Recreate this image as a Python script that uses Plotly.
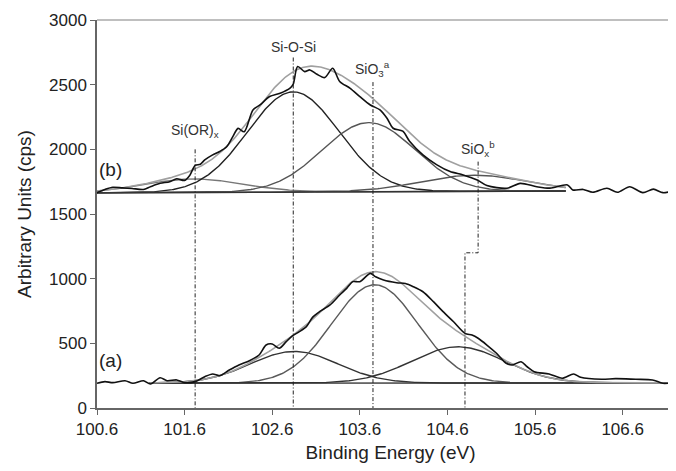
import numpy as np
import plotly.graph_objects as go

# ---------------- data ----------------
# raw spectrum (b)
energy_b = [100.60, 100.69, 100.78, 100.89, 101.00, 101.13, 101.21, 101.32, 101.43, 101.51,
            101.60, 101.66, 101.72, 101.78, 101.83, 101.92, 102.00, 102.08, 102.15, 102.21,
            102.28, 102.38, 102.46, 102.57, 102.69, 102.80, 102.84, 102.89, 102.97, 103.03,
            103.11, 103.20, 103.29, 103.37, 103.49, 103.60, 103.72, 103.83, 103.91, 103.98,
            104.09, 104.17, 104.32, 104.48, 104.63, 104.78, 104.94, 105.05, 105.28, 105.43,
            105.62, 105.77, 105.97, 106.03, 106.15, 106.26, 106.42, 106.54, 106.68, 106.83,
            106.95, 107.06, 107.21, 107.30]
counts_b = [1665, 1690, 1707, 1702, 1697, 1690, 1711, 1737, 1750, 1772,
            1760, 1800, 1875, 1885, 1918, 1957, 1983, 2020, 2098, 2162,
            2136, 2305, 2343, 2408, 2434, 2472, 2505, 2640, 2601, 2614,
            2580, 2555, 2627, 2525, 2472, 2408, 2343, 2305, 2240, 2163,
            2140, 2060, 1957, 1880, 1828, 1802, 1763, 1720, 1699, 1737,
            1711, 1700, 1725, 1686, 1690, 1668, 1699, 1668, 1711, 1665,
            1692, 1665, 1680, 1670]

# raw spectrum (a)
energy_a = [100.60, 100.69, 100.78, 100.92, 101.01, 101.13, 101.21, 101.32, 101.40, 101.51,
            101.60, 101.72, 101.83, 101.92, 102.00, 102.11, 102.22, 102.34, 102.45, 102.53,
            102.60, 102.68, 102.76, 102.83, 102.91, 102.99, 103.06, 103.14, 103.26, 103.37,
            103.45, 103.52, 103.60, 103.72, 103.78, 103.87, 104.02, 104.12, 104.21, 104.32,
            104.44, 104.55, 104.67, 104.80, 104.88, 104.95, 105.05, 105.16, 105.27, 105.34,
            105.44, 105.51, 105.59, 105.76, 105.91, 106.04, 106.12, 106.36, 106.52, 106.75,
            106.94, 107.06, 107.21, 107.30]
counts_a = [191, 204, 196, 211, 191, 211, 186, 234, 211, 217,
            196, 204, 242, 263, 250, 294, 333, 366, 410, 487,
            495, 462, 513, 557, 590, 629, 701, 745, 797, 874,
            925, 977, 977, 1041, 1015, 990, 969, 962, 938, 899,
            822, 745, 667, 577, 564, 539, 487, 423, 346, 333,
            358, 319, 281, 263, 230, 263, 237, 222, 227, 222,
            217, 191, 196, 194]

# fitted components: [centre (eV), height above background (cps), sigma (eV)]
peaks_b = {"Si(OR)x": [101.70, 105, 0.56],
           "Si-O-Si": [102.84, 775, 0.52],
           "SiO3": [103.70, 535, 0.53],
           "SiOx": [104.90, 125, 0.60]}
background_b = [1663, 1678]          # linear background at start/end of fit
fit_range_b = [100.60, 105.95]

peaks_a = {"Si-O-Si": [102.85, 245, 0.50],
           "SiO3": [103.77, 760, 0.49],
           "SiOx": [104.72, 280, 0.53]}
background_a = [192, 194]
fit_range_a = [101.20, 107.30]

# reference lines for the chemical states
state_labels = ["Si(OR)<sub>x</sub>", "Si-O-Si", "SiO<sub>3</sub><sup>a</sup>", "SiO<sub>x</sub><sup>b</sup>"]
state_energy_top = [101.72, 102.84, 103.75, 104.95]
state_energy_bottom = [101.72, 102.84, 103.75, 104.80]
state_line_top = [2000, 2710, 2520, 1905]
state_step_level = [None, None, None, 1200]

x_ticks = [100.6, 101.6, 102.6, 103.6, 104.6, 105.6, 106.6]
y_ticks = [0, 500, 1000, 1500, 2000, 2500, 3000]

# ---------------- figure ----------------
FONT = "Liberation Sans, Arial, sans-serif"
fig = go.Figure()


def add_fit(peaks, bg, rng, comp_colors, env_color="#a0a0a0"):
    e = np.linspace(rng[0], rng[1], 400)
    base = bg[0] + (bg[1] - bg[0]) * (e - rng[0]) / (rng[1] - rng[0])
    total = base.copy()
    for (name, (c, h, s)), col in zip(peaks.items(), comp_colors):
        g = h * np.exp(-((e - c) ** 2) / (2 * s ** 2))
        total += g
        fig.add_trace(go.Scatter(x=e, y=base + g, mode="lines",
                                 line=dict(color=col, width=1.4), hoverinfo="skip"))
    fig.add_trace(go.Scatter(x=e, y=base, mode="lines",
                             line=dict(color="#333333", width=1.4), hoverinfo="skip"))
    fig.add_trace(go.Scatter(x=e, y=total, mode="lines",
                             line=dict(color=env_color, width=1.6), hoverinfo="skip"))


add_fit(peaks_b, background_b, fit_range_b, ["#777777", "#222222", "#555555", "#555555"])
add_fit(peaks_a, background_a, fit_range_a, ["#333333", "#5a5a5a", "#333333"])

fig.add_trace(go.Scatter(x=energy_b, y=counts_b, mode="lines",
                         line=dict(color="#111111", width=1.6, shape="spline", smoothing=0.8)))
fig.add_trace(go.Scatter(x=energy_a, y=counts_a, mode="lines",
                         line=dict(color="#111111", width=1.6, shape="spline", smoothing=0.8)))

# vertical dash-dot state lines
for xt, xb, top, step in zip(state_energy_top, state_energy_bottom, state_line_top, state_step_level):
    if step is None:
        xs, ys = [xt, xt], [top, 0]
    else:
        xs, ys = [xt, xt, xb, xb], [top, step, step, 0]
    fig.add_trace(go.Scatter(x=xs, y=ys, mode="lines",
                             line=dict(color="#222222", width=1, dash="4px,2px,1px,2px")))

label_offsets = [6, 0, 0, 0]
for lab, xt, top, off in zip(state_labels, state_energy_top, state_line_top, label_offsets):
    fig.add_annotation(x=xt, y=top, text=lab, showarrow=False, xanchor="center",
                       yanchor="bottom", yshift=off + 1,
                       font=dict(family=FONT, size=14, color="#333333"))

fig.add_annotation(x=100.6, y=1745, text="(b)", showarrow=False, xanchor="left", yanchor="bottom",
                   font=dict(family=FONT, size=19, color="#222222"))
fig.add_annotation(x=100.6, y=270, text="(a)", showarrow=False, xanchor="left", yanchor="bottom",
                   font=dict(family=FONT, size=19, color="#222222"))

# top frame line
fig.add_shape(type="line", xref="paper", yref="paper", x0=0, x1=1, y0=1, y1=1,
              line=dict(color="#aaaaaa", width=1.5))

# the page adds an 8 px body margin, so the margins below are shifted by that amount
fig.update_layout(
    width=676, height=471,
    margin=dict(l=89, r=0, t=12, b=71, autoexpand=False),
    paper_bgcolor="white", plot_bgcolor="white",
    showlegend=False,
    font=dict(family=FONT, color="#222222", size=17),
    xaxis=dict(range=[100.6, 107.30], tickvals=x_ticks, ticktext=[f"{v:.1f}" for v in x_ticks],
               automargin=False,
               showgrid=False, zeroline=False, showline=True, linecolor="#666666", linewidth=1.5,
               ticks="outside", ticklen=5, tickcolor="#666666", tickwidth=1.2,
               tickfont=dict(size=17, family=FONT, color="#222222"),
               title=dict(text="Binding Energy (eV)", font=dict(size=19, family=FONT, color="#222222"),
                          standoff=8)),
    yaxis=dict(range=[0, 3000], tickvals=y_ticks, showgrid=False, zeroline=False,
               automargin=False,
               showline=True, linecolor="#666666", linewidth=1.5,
               ticks="outside", ticklen=5, tickcolor="#666666", tickwidth=1.2,
               tickfont=dict(size=17, family=FONT, color="#222222"),
               title=dict(text="Arbitrary Units (cps)", font=dict(size=19, family=FONT, color="#222222"),
                          standoff=12)),
)

fig.write_html("out.html")
